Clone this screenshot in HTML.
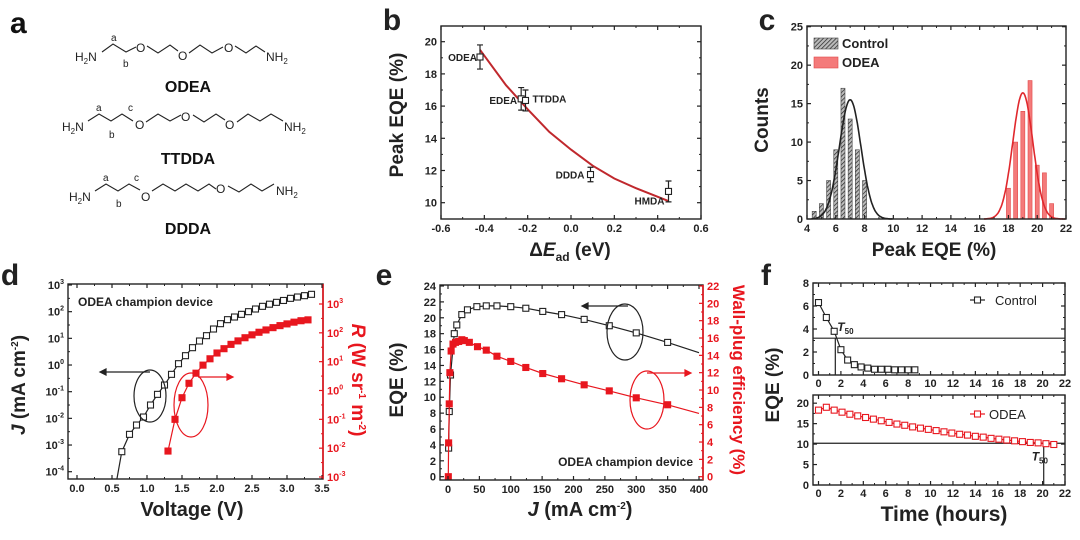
<!DOCTYPE html>
<html><head><meta charset="utf-8"><style>
html,body{margin:0;padding:0;background:#fff;}
svg{display:block;font-family:"Liberation Sans",Arial,sans-serif;}
</style></head><body>
<svg id="fig" width="1080" height="540" viewBox="0 0 1080 540">
<defs>
<pattern id="hatch" patternUnits="userSpaceOnUse" width="3" height="3" patternTransform="rotate(45)">
<rect width="3" height="3" fill="#bbb"/><line x1="0" y1="0" x2="0" y2="3" stroke="#222" stroke-width="1.4"/>
</pattern>
</defs>
<g font-size="12" fill="#222">
<text x="10" y="33" font-size="30" font-weight="bold" fill="#111">a</text>
<g>
<text x="75" y="61">H<tspan font-size="8" dy="3">2</tspan><tspan dy="-3">N</tspan></text>
<polyline points="102,52 113,44 126,52 136,47" fill="none" stroke="#222" stroke-width="1.1"/>
<text x="136" y="52">O</text>
<polyline points="147,46 158,53 170,45 178,51" fill="none" stroke="#222" stroke-width="1.1"/>
<text x="178" y="60">O</text>
<polyline points="189,53 200,45 212,53 223,47" fill="none" stroke="#222" stroke-width="1.1"/>
<text x="224" y="52">O</text>
<polyline points="235,46 246,53 256,46 265,52" fill="none" stroke="#222" stroke-width="1.1"/>
<text x="266" y="61">NH<tspan font-size="8" dy="3">2</tspan></text>
<text x="111" y="41" font-size="10">a</text><text x="123" y="67" font-size="10">b</text>
<text x="188" y="92" text-anchor="middle" font-size="16" font-weight="bold" fill="#111">ODEA</text>
</g>
<g>
<text x="62" y="131">H<tspan font-size="8" dy="3">2</tspan><tspan dy="-3">N</tspan></text>
<polyline points="88,121 99,114 111,121 122,114 133,121" fill="none" stroke="#222" stroke-width="1.1"/>
<text x="135" y="129">O</text>
<polyline points="146,122 158,114 170,121 181,115" fill="none" stroke="#222" stroke-width="1.1"/>
<text x="181" y="121">O</text>
<polyline points="193,115 204,122 216,114 225,120" fill="none" stroke="#222" stroke-width="1.1"/>
<text x="225" y="129">O</text>
<polyline points="237,122 248,114 260,121 271,114 283,121" fill="none" stroke="#222" stroke-width="1.1"/>
<text x="284" y="131">NH<tspan font-size="8" dy="3">2</tspan></text>
<text x="96" y="111" font-size="10">a</text><text x="109" y="138" font-size="10">b</text><text x="128" y="111" font-size="10">c</text>
<text x="188" y="164" text-anchor="middle" font-size="16" font-weight="bold" fill="#111">TTDDA</text>
</g>
<g>
<text x="69" y="201">H<tspan font-size="8" dy="3">2</tspan><tspan dy="-3">N</tspan></text>
<polyline points="95,191 106,184 118,191 129,184 140,190" fill="none" stroke="#222" stroke-width="1.1"/>
<text x="141" y="201">O</text>
<polyline points="152,191 163,184 175,191 186,184 198,191 209,184 216,189" fill="none" stroke="#222" stroke-width="1.1"/>
<text x="216" y="193">O</text>
<polyline points="228,186 239,192 251,184 262,191 274,184" fill="none" stroke="#222" stroke-width="1.1"/>
<text x="276" y="195">NH<tspan font-size="8" dy="3">2</tspan></text>
<text x="103" y="181" font-size="10">a</text><text x="116" y="207" font-size="10">b</text><text x="134" y="181" font-size="10">c</text>
<text x="188" y="234" text-anchor="middle" font-size="16" font-weight="bold" fill="#111">DDDA</text>
</g>
</g>
</svg>
<script>
// panel b
const bNames=["ODEA","EDEA","TTDDA","DDDA","HMDA"];
const bX=[-0.42,-0.23,-0.21,0.09,0.45];
const bY=[19.05,16.45,16.35,11.75,10.7];
const bErr=[0.75,0.7,0.65,0.45,0.65];
const bFitX=[-0.42,-0.3,-0.2,-0.1,0,0.1,0.2,0.3,0.45];
const bFitY=[19.5,17.3,15.8,14.4,13.3,12.3,11.5,10.9,10.1];
// panel c
const cCtrlX=[4.5,5,5.5,6,6.5,7,7.5,8];
const cCtrlN=[1,2,5,9,17,13,9,5];
const cOdeaX=[18,18.5,19,19.5,20,20.5,21];
const cOdeaN=[4,10,14,18,7,6,2];
const cFitCtrl=[7,0.75,15.5];
const cFitOdea=[19,0.7,16.4];
// panel d (log10 values)
const dJV=[0.64,0.75,0.85,0.95,1.05,1.15,1.25,1.35,1.45,1.55,1.65,1.75,1.85,1.95,2.05,2.15,2.25,2.35,2.45,2.55,2.65,2.75,2.85,2.95,3.05,3.15,3.25,3.35];
const dJ=[-3.25,-2.6,-2.25,-1.95,-1.5,-1.1,-0.75,-0.35,0.05,0.35,0.65,0.9,1.1,1.35,1.55,1.7,1.8,1.9,2.0,2.1,2.2,2.28,2.35,2.42,2.5,2.55,2.6,2.65];
const dRV=[1.3,1.4,1.5,1.6,1.7,1.8,1.9,2.0,2.1,2.2,2.3,2.4,2.5,2.6,2.7,2.8,2.9,3.0,3.1,3.2,3.3];
const dR=[-2.1,-1.0,-0.25,0.25,0.6,0.88,1.1,1.3,1.45,1.6,1.72,1.83,1.93,2.02,2.1,2.18,2.25,2.31,2.37,2.42,2.45];
// panel e
const eJ=[1,2,4,10,14,22,31,46,61,78,100,124,151,181,217,257,300,350,400];
const eEQE=[3.6,8.2,12.8,18,19.1,20.4,21,21.4,21.5,21.5,21.4,21.2,20.8,20.4,19.8,19.0,18.1,16.9,15.6];
const eWJ=[0.5,1,2,3,5,8,12,17,22,26,34,47,61,78,100,124,151,181,217,257,300,350,400];
const eWPE=[0,3.9,8.4,12,14.5,15.3,15.5,15.6,15.8,15.7,15.5,15.0,14.6,13.9,13.3,12.6,11.9,11.3,10.6,9.9,9.1,8.3,7.3];
// panel f
const fCtrlT=[0,0.7,1.4,2,2.6,3.2,3.8,4.4,5,5.6,6.2,6.8,7.4,8,8.6];
const fCtrlE=[6.3,5.0,3.8,2.2,1.3,0.9,0.7,0.6,0.5,0.5,0.5,0.45,0.45,0.45,0.45];
const fOdeaT=[0,0.7,1.4,2.1,2.8,3.5,4.2,4.9,5.6,6.3,7,7.7,8.4,9.1,9.8,10.5,11.2,11.9,12.6,13.3,14,14.7,15.4,16.1,16.8,17.5,18.2,18.9,19.6,20.3,21];
const fOdeaE=[18.3,19.0,18.3,17.8,17.3,16.9,16.5,16.1,15.7,15.3,14.9,14.6,14.2,13.9,13.6,13.3,13.0,12.7,12.4,12.2,11.9,11.7,11.4,11.2,11.0,10.8,10.6,10.4,10.3,10.1,9.9];
const fT50=[1.5,3.2,20.1,10.2];

const NS='http://www.w3.org/2000/svg';
const svg=document.getElementById('fig');
const RED='#e8161e';
function mk(tag,a,p){const e=document.createElementNS(NS,tag);for(const k in a)e.setAttribute(k,a[k]);(p||svg).appendChild(e);return e;}
function lin(d0,d1,p0,p1){return v=>p0+(v-d0)*(p1-p0)/(d1-d0);}
function grp(name){const g=mk('g',{});


return g;}
function text(p,x,y,s,o){o=o||{};const t=mk('text',{x:x,y:y,'font-size':o.size||11,'font-weight':o.w||'bold','text-anchor':o.anchor||'middle',fill:o.fill||'#222'},p);
if(o.rot)t.setAttribute('transform','rotate('+o.rot+' '+x+' '+y+')');
t.innerHTML=s;


return t;}
function sup(b,e){return b+'<tspan font-size="7" dy="-5">'+e+'</tspan>';}
function frame(p,x0,y0,x1,y1,col){const r=mk('rect',{x:x0,y:y0,width:x1-x0,height:y1-y0,fill:'none',stroke:col||'#222','stroke-width':1.4},p);

}
function xTicks(p,sx,vals,labs,y0,y1,col,dy){vals.forEach((v,i)=>{const x=sx(v);
mk('line',{x1:x,y1:y1,x2:x,y2:y1-4,stroke:col||'#222','stroke-width':1.2},p);
mk('line',{x1:x,y1:y0,x2:x,y2:y0+4,stroke:col||'#222','stroke-width':1.2},p);
if(i<vals.length-1){const xm=sx((v+vals[i+1])/2);mk('line',{x1:xm,y1:y1,x2:xm,y2:y1-2,stroke:'#222'},p);mk('line',{x1:xm,y1:y0,x2:xm,y2:y0+2,stroke:'#222'},p);}
if(labs)text(p,x,y1+(dy||13),labs[i],{size:11,name:'x-tick-label'});});}
function yTicks(p,sy,vals,labs,x,dir,col){vals.forEach((v,i)=>{const y=sy(v);
mk('line',{x1:x,y1:y,x2:x+4*dir,y2:y,stroke:col||'#222','stroke-width':1.2},p);
if(i<vals.length-1){const ym=sy((v+vals[i+1])/2);mk('line',{x1:x,y1:ym,x2:x+2*dir,y2:ym,stroke:col||'#222'},p);}
if(labs)text(p,dir>0?x-4:x+4,y+4,labs[i],{size:11,anchor:dir>0?'end':'start',fill:col||'#222',name:'y-tick-label'});});}
function sq(p,x,y,s,stroke,fill,name){const r=mk('rect',{x:x-s/2,y:y-s/2,width:s,height:s,fill:fill,stroke:stroke,'stroke-width':1.1},p);


return r;}
function pl(p,pts,col,w,name){const l=mk('polyline',{points:pts.map(q=>q[0].toFixed(1)+','+q[1].toFixed(1)).join(' '),fill:'none',stroke:col,'stroke-width':w||1.2},p);


return l;}
function range(a,b,s){const r=[];for(let v=a;v<=b+1e-9;v+=s)r.push(+v.toFixed(4));return r;}

// panel b
(function(){const g=grp('panel-b-chart');
const X0=441,X1=701,Y0=26,Y1=219;
const sx=lin(-0.6,0.6,441,701), sy=lin(10,20,202.7,41.7);
text(g,392,30,'b',{size:30,name:'panel-letter-b'});
frame(g,X0,Y0,X1,Y1);
const xv=range(-0.6,0.6,0.2);xTicks(g,sx,xv,xv.map(v=>v.toFixed(1)),Y0,Y1);
const yv=range(10,20,2);yTicks(g,sy,yv,yv.map(String),X0,1);yTicks(g,sy,yv,null,X1,-1);
pl(g,bFitX.map((x,i)=>[sx(x),sy(bFitY[i])]),'#c0282d',2,'exp-fit-curve');
bX.forEach((x,i)=>{const px=sx(x),py=sy(bY[i]),e1=sy(bY[i]+bErr[i]),e2=sy(bY[i]-bErr[i]);
const eb=mk('path',{d:`M${px},${e1}V${e2}M${px-3},${e1}h6M${px-3},${e2}h6`,stroke:'#222','stroke-width':1.2,fill:'none'},g);


sq(g,px,py,6,'#222','#fff','point-'+bNames[i].toLowerCase());});
const lp=[[sx(bX[0])-3,sy(bY[0])+4,'end'],[sx(bX[1])-4,sy(bY[1])+5,'end'],[sx(bX[2])+7,sy(bY[2])+2,'start'],[sx(bX[3])-6,sy(bY[3])+4,'end'],[sx(bX[4])-4,sy(bY[4])+13,'end']];
bNames.forEach((n,i)=>text(g,lp[i][0],lp[i][1],n,{size:10,anchor:lp[i][2],name:'compound-label'}));
text(g,403,115,'Peak EQE (%)',{size:19,rot:-90,name:'y-axis-title'});
text(g,570,256,'Δ<tspan font-style="italic">E</tspan><tspan font-size="12" dy="5">ad</tspan><tspan dy="-5"> (eV)</tspan>',{size:19,name:'x-axis-title'});
})();

// panel c
(function(){const g=grp('panel-c-chart');
const X0=807,X1=1066,Y0=26,Y1=219;
const sx=lin(4,22,807,1066), sy=lin(0,25,219,26.7);
text(g,767,30,'c',{size:30,name:'panel-letter-c'});
const bw=sx(4.28)-sx(4);
cCtrlX.forEach((x,i)=>{const r=mk('rect',{x:sx(x)-bw/2,y:sy(cCtrlN[i]),width:bw,height:Y1-sy(cCtrlN[i]),fill:'url(#hatch)',stroke:'#444','stroke-width':0.6},g);

});
cOdeaX.forEach((x,i)=>{const r=mk('rect',{x:sx(x)-bw/2,y:sy(cOdeaN[i]),width:bw,height:Y1-sy(cOdeaN[i]),fill:'#f47a7a',stroke:'#e04848','stroke-width':0.6},g);

});
function gauss(p,a,b){const pts=[];for(let x=a;x<=b;x+=0.05)pts.push([sx(x),sy(p[2]*Math.exp(-Math.pow(x-p[0],2)/(2*p[1]*p[1])))]);return pts;}
pl(g,gauss(cFitCtrl,4.3,10),'#222',1.6,'gaussian-fit-control');
pl(g,gauss(cFitOdea,16.3,22),'#e0282d',1.6,'gaussian-fit-odea');
frame(g,X0,Y0,X1,Y1);
const xv=range(4,22,2);xTicks(g,sx,xv,xv.map(String),Y0,Y1);
const yv=range(0,25,5);yTicks(g,sy,yv,yv.map(String),X0,1);yTicks(g,sy,yv,null,X1,-1);
const l1=mk('rect',{x:814,y:38,width:24,height:11,fill:'url(#hatch)',stroke:'#444','stroke-width':0.6},g);


const l2=mk('rect',{x:814,y:57,width:24,height:11,fill:'#f47a7a',stroke:'#e04848','stroke-width':0.6},g);


text(g,842,48,'Control',{size:13,anchor:'start',name:'legend-entry-control'});
text(g,842,67,'ODEA',{size:13,anchor:'start',name:'legend-entry-odea'});
text(g,768,120,'Counts',{size:19,rot:-90,name:'y-axis-title'});
text(g,934,256,'Peak EQE (%)',{size:19,name:'x-axis-title'});
})();

// panel d
(function(){const g=grp('panel-d-chart');
const X0=68,X1=323,Y0=284,Y1=479;
const sx=lin(0,3.5,77,322), syL=lin(3,-4,285,471.7), syR=lin(3,-3,304,477);
text(g,10,285,'d',{size:30,name:'panel-letter-d'});
pl(g,[[sx(0.57),Y1],...dJV.map((v,i)=>[sx(v),syL(dJ[i])])],'#222',1.2,'jv-curve');
dJV.forEach((v,i)=>sq(g,sx(v),syL(dJ[i]),6,'#222','#fff','jv-point'));
pl(g,dRV.map((v,i)=>[sx(v),syR(dR[i])]),RED,1.2,'radiance-curve');
dRV.forEach((v,i)=>sq(g,sx(v),syR(dR[i]),6,RED,RED,'radiance-point'));
mk('rect',{x:X0,y:Y0,width:X1-X0,height:Y1-Y0,fill:'none',stroke:'#222','stroke-width':1.4},g);
mk('line',{x1:X1,y1:Y0,x2:X1,y2:Y1,stroke:RED,'stroke-width':1.6},g);
const xv=range(0,3.5,0.5);xTicks(g,sx,xv,xv.map(v=>v.toFixed(1)),Y0,Y1);
const lv=range(-4,3,1);yTicks(g,syL,lv,lv.map(v=>sup('10',v)),X0,1);
const rv=range(-3,3,1);yTicks(g,syR,rv,rv.map(v=>sup('10',v)),X1,-1,RED);
text(g,78,306,'ODEA champion device',{size:12,anchor:'start',name:'annotation-device'});
const e1=mk('ellipse',{cx:150,cy:396,rx:16,ry:26,fill:'none',stroke:'#222','stroke-width':1.2},g);


const a1=mk('path',{d:'M150,372H100M100,372l6,-3v6z',stroke:'#222',fill:'#222','stroke-width':1.2},g);


const e2=mk('ellipse',{cx:191,cy:405,rx:17,ry:32,fill:'none',stroke:RED,'stroke-width':1.2},g);


const a2=mk('path',{d:'M198,377H233M233,377l-6,-3v6z',stroke:RED,fill:RED,'stroke-width':1.2},g);


text(g,25,385,'<tspan font-style="italic">J</tspan> (mA cm<tspan font-size="10" dy="-7">-2</tspan><tspan dy="7">)</tspan>',{size:19,rot:-90,name:'y-axis-title-left'});
text(g,352,380,'<tspan font-style="italic">R</tspan> (W sr<tspan font-size="10" dy="-7">-1</tspan><tspan dy="7"> m</tspan><tspan font-size="10" dy="-7">-2</tspan><tspan dy="7">)</tspan>',{size:19,rot:90,fill:RED,name:'y-axis-title-right'});
text(g,192,516,'Voltage (V)',{size:20,name:'x-axis-title'});
})();

// panel e
(function(){const g=grp('panel-e-chart');
const X0=440,X1=703,Y0=285,Y1=480;
const sx=lin(0,400,448,699), syL=lin(0,24,476.7,286), syR=lin(0,22,476.7,286);
text(g,384,285,'e',{size:30,name:'panel-letter-e'});
pl(g,eJ.map((v,i)=>[sx(v),syL(eEQE[i])]),'#222',1.2,'eqe-curve');
eJ.slice(0,-1).forEach((v,i)=>sq(g,sx(v),syL(eEQE[i]),6,'#222','#fff','eqe-point'));
pl(g,eWJ.map((v,i)=>[sx(v),syR(eWPE[i])]),RED,1.2,'wpe-curve');
eWJ.slice(0,-1).forEach((v,i)=>sq(g,sx(v),syR(eWPE[i]),6,RED,RED,'wpe-point'));
mk('rect',{x:X0,y:Y0,width:X1-X0,height:Y1-Y0,fill:'none',stroke:'#222','stroke-width':1.4},g);
mk('line',{x1:X1,y1:Y0,x2:X1,y2:Y1,stroke:RED,'stroke-width':1.6},g);
const xv=range(0,400,50);xTicks(g,sx,xv,xv.map(String),Y0,Y1);
const lv=range(0,24,2);yTicks(g,syL,lv,lv.map(String),X0,1);
const rv=range(0,22,2);yTicks(g,syR,rv,rv.map(String),X1,-1,RED);
const e1=mk('ellipse',{cx:625,cy:332,rx:18,ry:28,fill:'none',stroke:'#222','stroke-width':1.2},g);


const a1=mk('path',{d:'M628,306H582M582,306l6,-3v6z',stroke:'#222',fill:'#222','stroke-width':1.2},g);


const e2=mk('ellipse',{cx:647,cy:400,rx:17,ry:29,fill:'none',stroke:RED,'stroke-width':1.2},g);


const a2=mk('path',{d:'M647,373H691M691,373l-6,-3v6z',stroke:RED,fill:RED,'stroke-width':1.2},g);


text(g,693,466,'ODEA champion device',{size:12,anchor:'end',name:'annotation-device'});
text(g,403,380,'EQE (%)',{size:19,rot:-90,name:'y-axis-title-left'});
text(g,733,380,'Wall-plug efficiency (%)',{size:17,rot:90,fill:RED,name:'y-axis-title-right'});
text(g,580,516,'<tspan font-style="italic">J</tspan> (mA cm<tspan font-size="10" dy="-7">-2</tspan><tspan dy="7">)</tspan>',{size:20,name:'x-axis-title'});
})();

// panel f
(function(){const g=grp('panel-f-chart');
const X0=813,X1=1065;
const sx=lin(0,22,818.5,1065);
text(g,766,285,'f',{size:30,name:'panel-letter-f'});
const tY0=283,tY1=375, syT=lin(0,8,375,283);
frame(g,X0,tY0,X1,tY1);
const xv=range(0,22,2);xTicks(g,sx,xv,xv.map(String),tY0,tY1,null,12);
const tv=range(0,8,2);yTicks(g,syT,tv,tv.map(String),X0,1);yTicks(g,syT,tv,null,X1,-1);
const h1=mk('path',{d:`M${X0},${syT(fT50[1])}H${X1}M${sx(fT50[0])},${syT(fT50[1])}V${tY1}`,stroke:'#222','stroke-width':1.2,fill:'none'},g);


pl(g,fCtrlT.map((t,i)=>[sx(t),syT(fCtrlE[i])]),'#222',1.2,'control-decay-curve');
fCtrlT.forEach((t,i)=>sq(g,sx(t),syT(fCtrlE[i]),6,'#222','#fff','control-point'));
text(g,sx(fT50[0])+2,syT(fT50[1])-7,'<tspan font-style="italic">T</tspan><tspan font-size="8" dy="3">50</tspan>',{size:12,anchor:'start',name:'t50-label-control'});
pl(g,[[970,300],[985,300]],'#222',1.2,'legend-line-control');
sq(g,977.5,300,6,'#222','#fff','legend-marker-control');
text(g,995,305,'Control',{size:13,anchor:'start',w:'normal',name:'legend-entry-control'});
const bY0=395,bY1=485, syB=lin(0,22,485,395);
frame(g,X0,bY0,X1,bY1);
xTicks(g,sx,xv,xv.map(String),bY0,bY1,null,12);
const bv=range(0,20,5);yTicks(g,syB,bv,bv.map(String),X0,1);yTicks(g,syB,bv,null,X1,-1);
const h2=mk('path',{d:`M${X0},${syB(fT50[3])}H${X1}M${sx(fT50[2])},${syB(fT50[3])}V${bY1}`,stroke:'#222','stroke-width':1.2,fill:'none'},g);


pl(g,fOdeaT.map((t,i)=>[sx(t),syB(fOdeaE[i])]),RED,1.2,'odea-decay-curve');
fOdeaT.forEach((t,i)=>sq(g,sx(t),syB(fOdeaE[i]),6,RED,'#fff','odea-point'));
text(g,sx(fT50[2])-12,syB(fT50[3])+17,'<tspan font-style="italic">T</tspan><tspan font-size="8" dy="3">50</tspan>',{size:12,anchor:'start',name:'t50-label-odea'});
pl(g,[[970,414],[985,414]],RED,1.2,'legend-line-odea');
sq(g,977.5,414,6,RED,'#fff','legend-marker-odea');
text(g,989,419,'ODEA',{size:13,anchor:'start',w:'normal',name:'legend-entry-odea'});
text(g,779,385,'EQE (%)',{size:19,rot:-90,name:'y-axis-title'});
text(g,944,521,'Time (hours)',{size:21,name:'x-axis-title'});
})();
</script>
</body></html>
